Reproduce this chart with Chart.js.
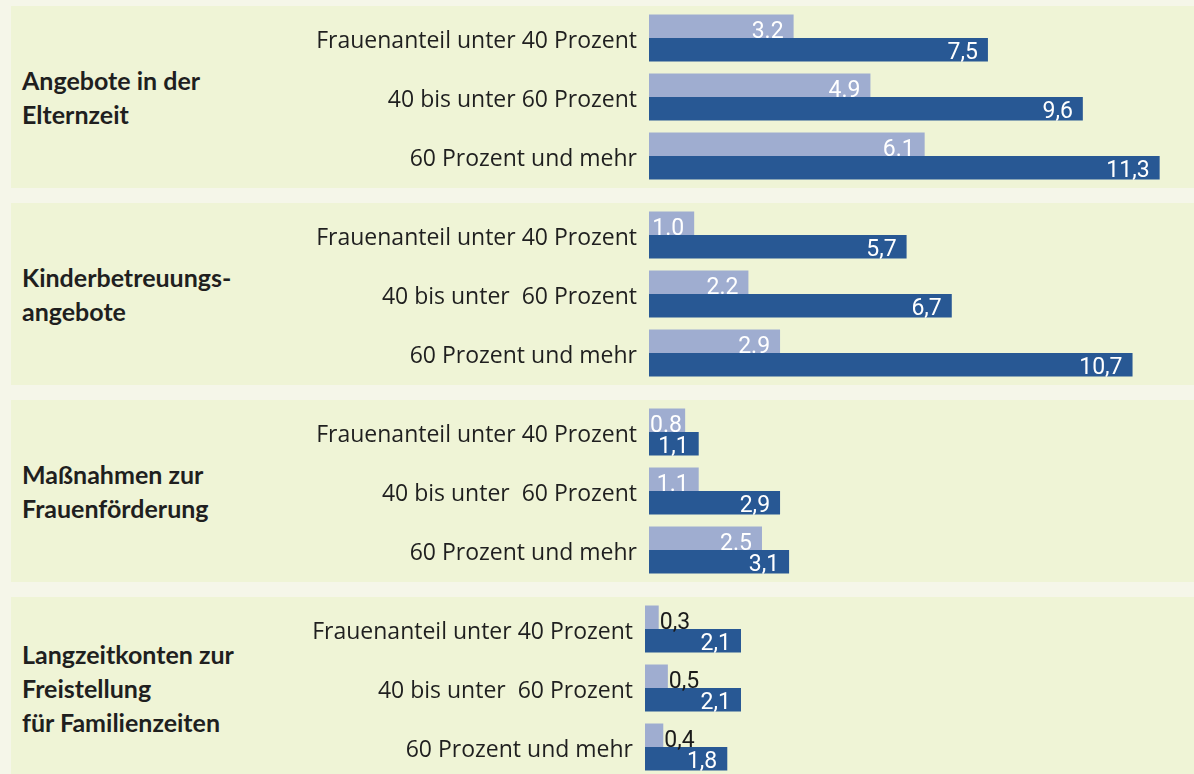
<!DOCTYPE html>
<html lang="de">
<head>
<meta charset="utf-8">
<title>Angebote nach Frauenanteil</title>
<script src="https://cdn.jsdelivr.net/npm/chart.js@4/dist/chart.umd.min.js"></script>
<style>
	body { margin: 0; background: #f5f6e9; width: 1194px; height: 774px; overflow: hidden; position: relative; font-family: "Open Sans", sans-serif; }
	.panel { position: absolute; left: 11px; width: 1183px; height: 182px; background: #eff4d6; }
	.panel h2 { position: absolute; left: 11px; top: 50%; transform: translateY(-50%); margin: 0; font-family: Lato, sans-serif; font-size: 25px; line-height: 34px; font-weight: bold; color: #1f1f1f; }
	.panel canvas { position: absolute; left: 239px; top: 0; }
</style>
</head>
<body>
<script>
"use strict";

// panel titles
const panelTitles = [
	["Angebote in der", "Elternzeit"],
	["Kinderbetreuungs-", "angebote"],
	["Maßnahmen zur", "Frauenförderung"],
	["Langzeitkonten zur", "Freistellung", "für Familienzeiten"]
];

// categories (Frauenanteil) per panel
const cats1 = ["Frauenanteil unter 40 Prozent", "40 bis unter 60 Prozent", "60 Prozent und mehr"];
const cats2 = ["Frauenanteil unter 40 Prozent", "40 bis unter  60 Prozent", "60 Prozent und mehr"];

// light series / dark series values
const light = [
	[3.2, 4.9, 6.1],
	[1.0, 2.2, 2.9],
	[0.8, 1.1, 2.5],
	[0.3, 0.5, 0.4]
];
const dark = [
	[7.5, 9.6, 11.3],
	[5.7, 6.7, 10.7],
	[1.1, 2.9, 3.1],
	[2.1, 2.1, 1.8]
];
// decimal separator of the light labels
const lightSep = [".", ".", ".", ","];

const panelTops = [6, 203, 400, 597];
const axisWidth = [399, 399, 399, 395];
const xMax = [12.06, 12.06, 12.06, 12.01];

const lightColor = "#9fadd0";
const darkColor = "#285894";
const numFont = "23px Roboto, sans-serif";

// draws the numbers at the end of the bars
const barLabels = {
	id: "barLabels",
	afterDatasetsDraw(chart) {
		const ctx = chart.ctx;
		ctx.save();
		ctx.font = numFont;
		ctx.textBaseline = "alphabetic";
		chart.data.datasets.forEach(function(ds, di) {
			const meta = chart.getDatasetMeta(di);
			meta.data.forEach(function(bar, i) {
				const p = bar.getProps(["x", "base", "y", "height"], true);
				const txt = ds.data[i].toFixed(1).replace(".", ds.sep);
				const w = ctx.measureText(txt).width;
				const top = p.y - p.height / 2;
				const bottom = p.y + p.height / 2;
				ctx.save();
				if (p.x - p.base < w) {
					// too short: black label next to the bar
					ctx.fillStyle = "#1a1a1a";
					ctx.textAlign = "left";
					ctx.fillText(txt, p.x + 1, bottom);
				} else {
					if (di == 0) {
						// the light labels are cut at the dark bar
						ctx.beginPath();
						ctx.rect(chart.chartArea.left, top, chart.chartArea.right - chart.chartArea.left, p.height);
						ctx.clip();
					}
					ctx.fillStyle = "#ffffff";
					ctx.textAlign = "right";
					ctx.fillText(txt, Math.max(p.x - 10, p.base + w + 1), di == 0 ? bottom : bottom - 2.5);
				}
				ctx.restore();
			});
		});
		ctx.restore();
	}
};

panelTitles.forEach(function(title, k) {
	let panel = document.createElement("div");
	panel.className = "panel";
	panel.style.top = panelTops[k] + "px";
	let h = document.createElement("h2");
	h.innerHTML = title.join("<br>");
	panel.appendChild(h);
	let cv = document.createElement("canvas");
	cv.width = 944;
	cv.height = 182;
	panel.appendChild(cv);
	document.body.appendChild(panel);

	new Chart(cv, {
		type: "bar",
		data: {
			labels: k == 0 ? cats1 : cats2,
			datasets: [
				{ data: light[k], backgroundColor: lightColor, sep: lightSep[k] },
				{ data: dark[k], backgroundColor: darkColor, sep: "," }
			]
		},
		options: {
			indexAxis: "y",
			responsive: false,
			animation: false,
			devicePixelRatio: 1,
			categoryPercentage: 0.8,
			barPercentage: 1.0,
			layout: { padding: { top: 2.5, bottom: 2.5, left: 0, right: 0 } },
			plugins: { legend: { display: false }, tooltip: { enabled: false } },
			scales: {
				x: { display: false, min: 0, max: xMax[k] },
				y: {
					grid: { display: false, drawTicks: false },
					border: { display: false },
					ticks: {
						color: "#1f1f1f",
						padding: 12,
						// empty first line pushes the label a few px down
						callback: function(value) { return ["", this.getLabelForValue(value)]; },
						font: { family: "'Open Sans', sans-serif", size: 23, lineHeight: "6px" }
					},
					afterFit: function(scale) {
						// keep the whole height for the bars
						scale.width = axisWidth[k];
						scale.paddingTop = 0;
						scale.paddingBottom = 0;
					}
				}
			}
		},
		plugins: [barLabels]
	});
});
</script>
</body>
</html>
